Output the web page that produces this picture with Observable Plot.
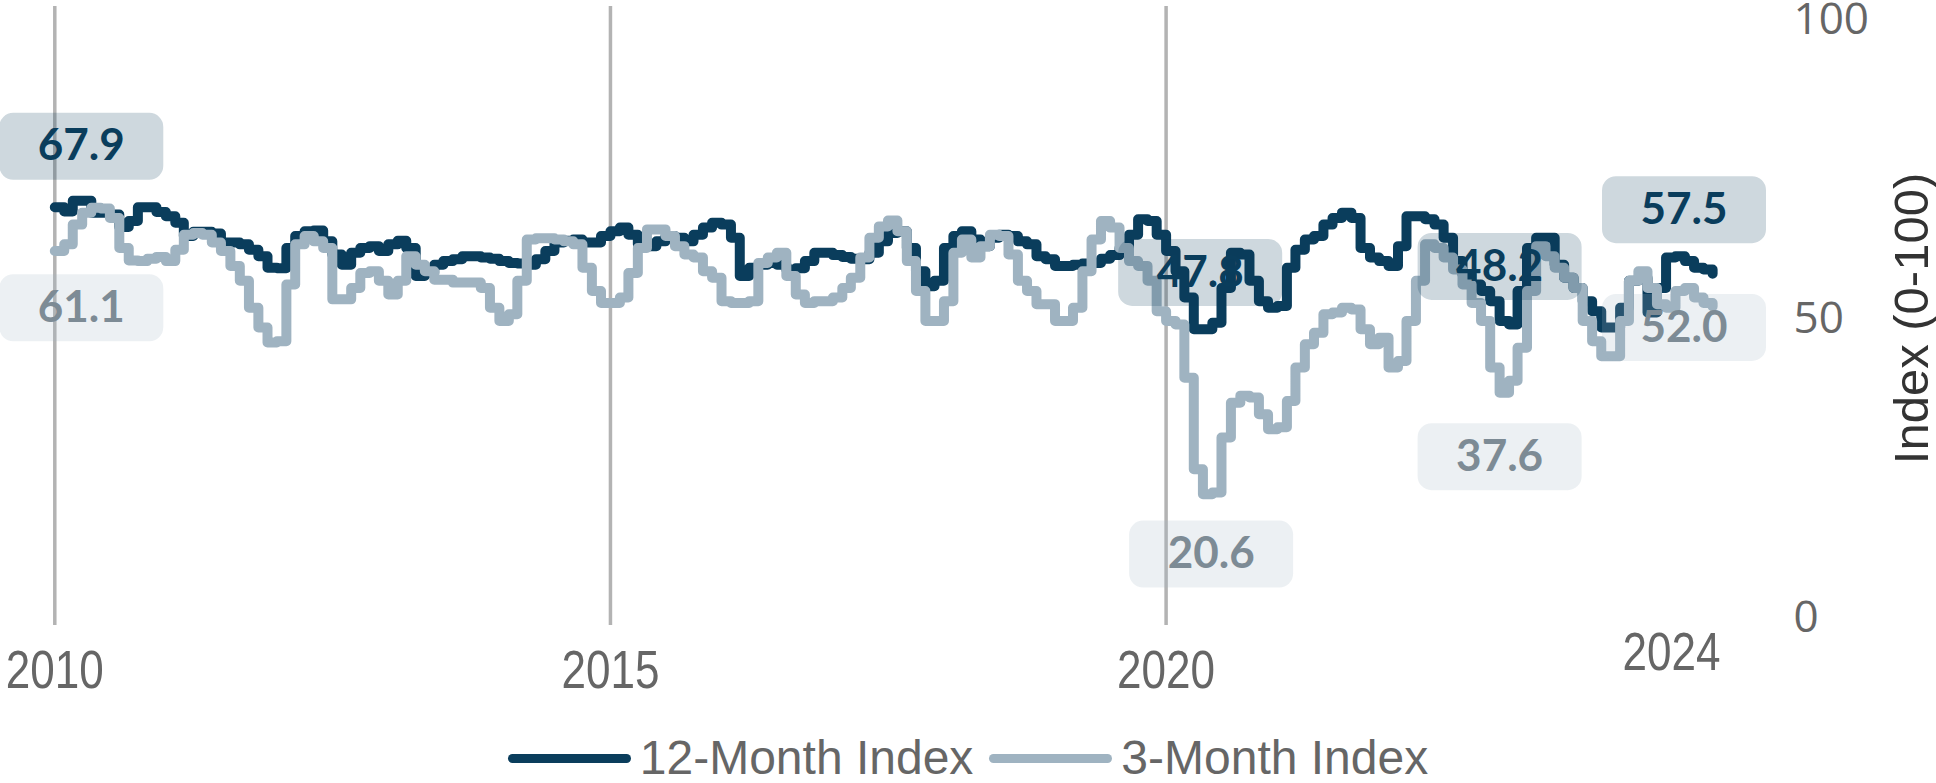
<!DOCTYPE html>
<html>
<head>
<meta charset="utf-8">
<script src="https://cdn.jsdelivr.net/npm/d3@7"></script>
<script src="https://cdn.jsdelivr.net/npm/@observablehq/plot@0.6"></script>
<style>
  html, body { margin: 0; padding: 0; background: #fff; }
  #chart svg { display: block; }
  #legend { display: flex; justify-content: center; align-items: center; padding-top: 12px;
    font-family: "Liberation Sans", Arial, sans-serif; font-size: 48px; line-height: 1.1; color: #666; }
  #legend .sw { display: inline-block; width: 123px; height: 9px; border-radius: 5px; margin-right: 9px; }
  #legend .item { display: flex; align-items: center; margin: 0 8px; }
</style>
</head>
<body>
<div id="chart"></div>
<div id="legend"></div>
<script>
// ---- data (monthly, starting January 2010) ----
const seriesNames = ["12-Month Index", "3-Month Index"];
const seriesColors = ["#0a3d5c", "#9fb3c1"];
const startYear = 2010;

const index12 = [
  68.6, 67.9, 69.7, 69.7, 67.7, 67.7, 67.4, 65.3, 66.3, 68.6,
  68.6, 67.8, 67.1, 66.0, 63.8, 64.5, 64.5, 64.2, 62.7, 62.7,
  62.4, 61.5, 60.4, 58.5, 58.4, 61.8, 63.8, 64.6, 64.7, 62.9,
  60.7, 59.0, 61.0, 61.8, 62.1, 61.3, 62.4, 63.0, 61.8, 57.1,
  57.6, 59.0, 59.6, 59.9, 60.4, 60.4, 60.2, 60.0, 59.6, 59.3,
  59.2, 59.0, 59.9, 61.3, 62.7, 63.0, 63.2, 62.7, 62.7, 63.8,
  64.6, 65.2, 64.0, 62.4, 62.1, 62.9, 63.8, 63.5, 62.9, 64.0,
  65.2, 66.0, 65.7, 63.5, 57.1, 58.5, 59.0, 59.3, 59.0, 58.2,
  58.4, 59.6, 61.0, 61.0, 60.6, 60.3, 60.0, 59.9, 61.0, 62.9,
  64.3, 64.6, 61.8, 57.9, 55.4, 56.3, 61.8, 63.8, 64.6, 63.2,
  62.1, 63.5, 64.0, 63.8, 62.9, 62.4, 60.4, 59.9, 58.8, 58.8,
  59.0, 59.2, 59.3, 60.0, 60.6, 61.8, 64.0, 66.6, 66.3, 64.0,
  61.3, 57.9, 53.5, 48.2, 48.2, 49.3, 55.1, 61.0, 60.7, 56.3,
  52.9, 51.8, 52.1, 58.5, 61.5, 63.2, 63.8, 65.7, 66.8, 67.7,
  66.8, 61.8, 60.2, 59.6, 58.8, 62.1, 67.1, 67.1, 66.6, 65.7,
  63.5, 59.6, 57.4, 55.7, 54.6, 52.9, 49.6, 49.0, 54.6, 61.8,
  63.5, 63.5, 59.0, 56.8, 55.1, 52.9, 51.2, 48.5, 48.5, 51.8,
  56.3, 56.8, 51.0, 55.1, 60.2, 60.4, 59.6, 58.5, 58.2, 57.5
];

const index3 = [
  61.3, 62.4, 65.7, 67.7, 68.5, 68.4, 66.8, 61.8, 59.7, 59.6,
  60.0, 60.3, 59.6, 61.5, 64.0, 64.3, 64.0, 62.7, 61.3, 58.8,
  56.3, 51.8, 48.5, 46.0, 46.2, 55.7, 62.4, 63.8, 62.9, 61.8,
  53.2, 53.2, 55.1, 57.6, 57.9, 56.3, 54.0, 56.3, 60.4, 59.0,
  57.9, 56.5, 56.5, 56.0, 56.0, 56.0, 55.1, 51.8, 49.6, 50.7,
  56.3, 63.2, 63.4, 63.4, 63.2, 62.9, 62.4, 58.5, 54.6, 52.6,
  52.6, 53.5, 57.6, 61.8, 64.9, 64.9, 63.8, 62.1, 60.7, 60.2,
  57.9, 56.8, 52.9, 52.6, 52.6, 52.9, 59.3, 60.2, 61.0, 57.1,
  54.0, 52.6, 52.9, 52.9, 53.5, 55.1, 56.8, 60.2, 63.5, 65.4,
  66.4, 64.6, 59.6, 54.6, 49.6, 49.6, 52.9, 61.0, 63.2, 60.2,
  62.1, 64.0, 63.8, 60.7, 56.3, 54.6, 52.4, 52.4, 49.6, 49.6,
  51.8, 57.9, 63.2, 66.3, 65.2, 61.8, 59.6, 58.8, 56.3, 51.2,
  49.6, 49.0, 40.1, 24.8, 20.6, 20.9, 30.1, 35.9, 37.1, 36.8,
  34.0, 31.5, 31.8, 36.2, 41.8, 45.7, 47.6, 50.7, 51.0, 51.8,
  51.5, 48.2, 45.7, 46.8, 41.8, 42.9, 49.6, 56.3, 62.4, 61.8,
  60.2, 58.2, 55.7, 52.6, 49.6, 41.8, 37.6, 39.6, 45.1, 54.6,
  62.1, 60.4, 58.5, 56.8, 55.1, 49.6, 46.2, 43.7, 43.7, 49.6,
  56.3, 57.9, 55.1, 52.4, 51.8, 54.6, 55.1, 53.5, 52.6, 52.0
];

const xTickYears = [2010, 2015, 2020];
const endTickLabel = "2024";
const endTickDate = "2024-07-19";
const yTicks = [0, 50, 100];
const yLabel = "Index (0-100)";
const yLabelAt = 50;

// value call-outs
const annoText   = ["67.9", "61.1", "47.8", "20.6", "48.2", "37.6", "57.5", "52.0"];
const annoSeries = [0, 1, 0, 1, 0, 1, 0, 1];
const annoDate   = ["2010-03-29", "2010-03-29", "2020-04-22", "2020-05-28", "2023-01-01", "2023-01-01", "2024-08-29", "2024-08-29"];
const annoValue  = [78.8, 51.8, 57.7, 10.6, 58.7, 26.9, 68.2, 48.5];

// ---- build tables ----
const t0 = new Date(Date.UTC(startYear, 0, 1));
const rows = [];
[index12, index3].forEach((arr, s) => arr.forEach((v, i) =>
  rows.push({date: d3.utcMonth.offset(t0, i), value: v, series: seriesNames[s]})));
const annos = annoText.map((t, i) => ({
  text: t, series: seriesNames[annoSeries[i]], s: annoSeries[i],
  date: new Date(annoDate[i] + "T00:00:00Z"), value: annoValue[i]
}));
const xTickDates = xTickYears.map(y => new Date(Date.UTC(y, 0, 1)));

const boxW = 164, boxH = 67, boxR = 14;
const roundBox = {
  draw(ctx) {
    const w = boxW / 2, h = boxH / 2, r = boxR;
    ctx.moveTo(-w + r, -h);
    ctx.lineTo(w - r, -h); ctx.arcTo(w, -h, w, -h + r, r);
    ctx.lineTo(w, h - r);  ctx.arcTo(w, h, w - r, h, r);
    ctx.lineTo(-w + r, h); ctx.arcTo(-w, h, -w, h - r, r);
    ctx.lineTo(-w, -h + r); ctx.arcTo(-w, -h, -w + r, -h, r);
    ctx.closePath();
  }
};

const W = 1936, H = 720;
const tickFont = "'Liberation Sans', Arial, sans-serif";
const labelFont = "Lato, 'Open Sans', sans-serif";

const chart = Plot.plot({
  width: W, height: H,
  marginTop: 6, marginBottom: H - 625, marginLeft: 0, marginRight: 143,
  x: {type: "utc", domain: [xTickDates[0], xTickDates[2]], range: [54.3, 1165.6]},
  y: {domain: [0, 100], range: [617, 19]},
  color: {domain: seriesNames, range: seriesColors},
  style: {background: "#fff", overflow: "visible"},
  marks: [
    Plot.gridX(xTickDates, {stroke: "#b3b3b3", strokeOpacity: 1, strokeWidth: 3.5}),
    Plot.line(rows, {x: "date", y: "value", z: "series", stroke: "series",
      curve: "step-after", strokeWidth: 10, strokeLinecap: "round", strokeLinejoin: "round"}),
    Plot.dot(annos, {x: "date", y: "value", symbol: roundBox, fill: "series", fillOpacity: 0.2, stroke: "none"}),
    Plot.text(annos.filter(d => d.s === 0), {x: "date", y: "value", text: "text", fill: seriesColors[0],
      fontSize: 44, fontWeight: 700, fontFamily: labelFont}),
    Plot.text(annos.filter(d => d.s === 1), {x: "date", y: "value", text: "text", fill: "#7d8b95",
      fontSize: 44, fontWeight: 700, fontFamily: labelFont}),
    Plot.axisX(xTickDates, {tickSize: 0, tickPadding: 25, tickFormat: d3.utcFormat("%Y"), label: null,
      fontSize: 53, fontFamily: tickFont, fill: "#666"}),
    Plot.axisX([new Date(endTickDate + "T00:00:00Z")], {tickSize: 0, tickPadding: 7, tickFormat: () => endTickLabel,
      label: null, fontSize: 53, fontFamily: tickFont, fill: "#666"}),
    Plot.axisY(yTicks, {anchor: "right", tickSize: 0, tickPadding: 0, label: null,
      fontSize: 44, fontFamily: "'Open Sans', sans-serif", fill: "#666"}),
    Plot.text([{label: yLabel, v: yLabelAt}], {frameAnchor: "right", y: "v", rotate: -90, dx: 119,
      textAnchor: "middle", text: "label",
      fontSize: 49, fontFamily: "'Liberation Sans', Arial, sans-serif", fill: "#333"})
  ]
});

// condensed look of the year labels
chart.querySelectorAll('g[aria-label="x-axis tick label"] text').forEach(t => {
  t.setAttribute("textLength", 98);
  t.setAttribute("lengthAdjust", "spacingAndGlyphs");
});
document.getElementById("chart").appendChild(chart);

// legend
const legend = document.getElementById("legend");
seriesNames.forEach((name, i) => {
  const item = document.createElement("div");
  item.className = "item";
  const sw = document.createElement("span");
  sw.className = "sw";
  sw.style.background = seriesColors[i];
  const tx = document.createElement("span");
  tx.textContent = name;
  item.appendChild(sw); item.appendChild(tx);
  legend.appendChild(item);
});
</script>
</body>
</html>
